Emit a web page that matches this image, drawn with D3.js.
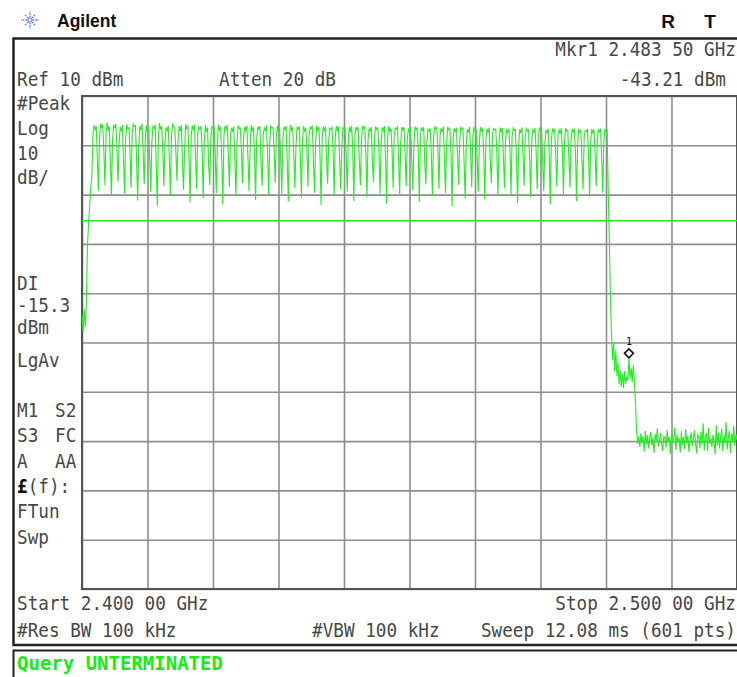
<!DOCTYPE html>
<html><head><meta charset="utf-8">
<script src="https://cdn.jsdelivr.net/npm/d3@7"></script>
<style>html,body{margin:0;padding:0;background:#fff}svg{display:block}</style>
</head><body>
<svg id="c" width="737" height="677"></svg>
<script>
// ---------------- data ----------------
const startGHz = 2.400, stopGHz = 2.500, sweepPoints = 601;
const refDbm = 10, bottomDbm = -90;
const xDivs = [2.40, 2.41, 2.42, 2.43, 2.44, 2.45, 2.46, 2.47, 2.48, 2.49, 2.50];
const yDivs = [10, 0, -10, -20, -30, -40, -50, -60, -70, -80, -90];
const displayLineDbm = -15.3;
const markerGHz = 2.4835, markerDbm = -43.21;

const topLabels = ["Ref 10 dBm", "Atten 20 dB", "Mkr1 2.483 50 GHz", "-43.21 dBm"];
const leftCol1 = ["#Peak", "Log", "10", "dB/", "DI", "-15.3", "dBm", "LgAv", "M1", "S3", "A", "", "FTun", "Swp"];
const leftCol2 = ["S2", "FC", "AA"];
const bottomLabels = ["Start 2.400 00 GHz", "Stop 2.500 00 GHz", "#Res BW 100 kHz", "#VBW 100 kHz", "Sweep 12.08 ms (601 pts)"];
const statusText = "Query UNTERMINATED";

// peak-hold trace, 601 sweep points (dBm)
const traceStart = [-34.5, -37.8, -33.2, -36.9, -32.0, -20.3, -16.1, -12.4, -8.6];
const traceComb = [
  -6.5, 1.8, 4.1, 3.2, 3.9, -2.0,
  -9.2, 0.9, 4.4, 3.5, 4.2, -1.1,
  -8.1, 2.2, 4.6, 3.0, 3.8, -3.4,
  -10.3, 1.1, 4.0, 3.6, 4.3, -0.6,
  -7.4, 0.3, 3.7, 2.9, 4.1, -2.8,
  -9.8, 1.6, 4.2, 3.3, 3.6, -1.7,
  -8.6, 2.4, 4.3, 3.8, 4.0, -3.1,
  -11.2, -0.4, 3.9, 3.1, 4.4, -1.3,
  -7.9, 1.4, 4.1, 2.6, 3.7, -2.2,
  -9.5, 0.7, 3.8, 3.4, 4.2, -4.0,
  -12.3, 1.9, 4.5, 3.2, 3.9, -0.9,
  -8.3, 0.2, 3.6, 3.0, 4.0, -2.6,
  -10.1, 2.1, 4.2, 3.7, 3.5, -1.5,
  -7.2, 1.0, 3.9, 2.8, 4.1, -3.3,
  -9.0, -0.8, 4.3, 3.4, 3.8, -1.9,
  -11.6, 1.7, 4.0, 3.1, 4.2, -2.4,
  -8.8, 2.3, 3.7, 3.3, 3.9, -0.7,
  -10.7, 0.5, 4.1, 2.7, 3.6, -3.8,
  -8.0, 1.3, 3.8, 3.5, 4.0, -1.2,
  -9.7, 0.0, 4.2, 3.0, 3.7, -2.9,
  -12.0, 1.8, 3.9, 3.2, 4.1, -1.6,
  -8.5, 2.0, 3.6, 2.9, 3.8, -3.0,
  -10.4, 0.6, 4.0, 3.4, 3.5, -0.8,
  -7.7, 1.5, 3.7, 3.1, 4.0, -2.5,
  -9.3, -0.5, 4.1, 2.8, 3.7, -1.4,
  -11.1, 1.2, 3.8, 3.3, 3.9, -3.6,
  -8.2, 2.2, 3.5, 3.0, 4.0, -2.0,
  -10.0, 0.4, 3.9, 3.5, 3.6, -1.0,
  -7.6, 1.6, 4.0, 2.7, 3.8, -2.7,
  -9.9, 0.8, 3.7, 3.2, 3.9, -3.2,
  -11.4, 1.9, 4.1, 3.0, 3.6, -1.8,
  -8.7, -0.2, 3.6, 3.3, 3.8, -2.3,
  -10.6, 1.1, 3.9, 2.9, 3.5, -0.5,
  -8.4, 2.0, 3.7, 3.4, 4.0, -3.5,
  -9.6, 0.3, 4.0, 3.1, 3.7, -1.9,
  -12.1, 1.4, 3.8, 2.8, 3.9, -2.6,
  -7.8, 0.9, 3.5, 3.2, 3.6, -1.1,
  -10.2, 1.7, 3.9, 3.0, 3.8, -3.1,
  -8.9, -0.6, 3.6, 3.3, 3.5, -2.1,
  -9.4, 1.3, 3.8, 2.6, 3.9, -0.9,
  -11.3, 2.1, 3.7, 3.1, 3.6, -2.8,
  -8.1, 0.6, 3.9, 3.4, 3.8, -1.6,
  -10.5, 1.0, 3.4, 2.9, 3.7, -3.4,
  -7.5, 1.8, 3.8, 3.2, 3.5, -1.3,
  -9.8, 0.1, 3.6, 3.0, 3.9, -2.4,
  -11.8, 1.5, 3.9, 2.7, 3.4, -0.7,
  -8.6, 2.3, 3.5, 3.3, 3.7, -3.0,
  -10.0, 0.7, 3.7, 3.1, 3.6, -1.8,
  -8.3, 1.2, 3.4, 2.8, 3.8, -2.5,
  -9.1, -0.3, 3.8, 3.2, 3.5, -1.2,
  -11.5, 1.9, 3.6, 3.0, 3.7, -3.7,
  -7.9, 0.8, 3.3, 2.9, 3.4, -2.0,
  -10.3, 1.4, 3.7, 3.3, 3.6, -0.9,
  -8.8, 2.0, 3.5, 2.7, 3.8, -2.9,
  -9.7, 0.2, 3.8, 3.1, 3.3, -1.5,
  -12.4, 1.6, 3.4, 2.8, 3.6, -2.2,
  -8.0, 1.0, 3.6, 3.2, 3.5, -3.3,
  -10.8, -0.1, 3.3, 2.6, 3.7, -1.0,
  -8.5, 1.7, 3.5, 3.0, 3.2, -2.7,
  -9.4, 0.5, 3.7, 2.9, 3.4, -1.7,
  -11.0, 1.3, 3.2, 2.7, 3.6, -3.1,
  -7.7, 2.1, 3.4, 3.1, 3.3, -1.4,
  -10.2, 0.4, 3.6, 2.8, 3.5, -2.3,
  -8.7, 1.1, 3.1, 2.6, 3.4, -0.8,
  -9.9, 1.8, 3.5, 3.0, 3.2, -3.0,
  -11.7, -0.2, 3.3, 2.5, 3.6, -1.9,
  -8.2, 1.5, 3.4, 2.9, 3.1, -2.6,
  -10.5, 0.9, 3.2, 2.7, 3.5, -1.1,
  -8.9, 1.6, 3.6, 3.0, 3.3, -3.5,
  -9.3, 0.3, 3.0, 2.6, 3.4, -1.6,
  -12.0, 1.2, 3.4, 2.8, 3.2, -2.4,
  -8.4, 2.0, 3.1, 2.5, 3.5, -0.9,
  -10.1, 0.6, 3.5, 2.9, 3.0, -2.8,
  -8.6, 1.4, 3.2, 2.7, 3.4, -1.3,
  -11.3, 0.0, 3.4, 2.6, 3.1, -3.2,
  -9.0, 1.7, 3.0, 2.8, 3.3, -2.0,
  -10.4, 0.8, 3.3, 2.5, 3.2, -1.4,
  -8.3, 1.1, 3.1, 2.7, 3.4, -2.5,
  -9.6, 0.5, 3.2, 2.8, 3.0, -8.5
];
const traceEdge = [
  -19.0, -30.5, -38.2, -43.6, -40.1, -45.9, -41.7, -46.8, -44.2, -48.5,
  -45.6, -48.9, -46.3, -49.2, -45.8, -48.4, -46.9, -47.7, -43.2, -47.4,
  -45.1, -48.0, -44.6, -47.9, -52.3, -57.8, -60.6, -59.1
];
const traceFloor = [
  -61.2, -58.4, -60.3, -59.0, -62.1, -57.9, -60.7, -58.8, -61.5, -59.6,
  -58.1, -60.9, -59.3, -62.4, -58.6, -60.0, -57.4, -61.1, -59.8, -58.3,
  -60.6, -62.0, -58.9, -59.5, -61.3, -57.7, -60.2, -59.1, -62.6, -58.5,
  -60.4, -59.7, -57.2, -61.8, -58.7, -60.1, -59.4, -62.3, -58.0, -60.8,
  -59.2, -61.6, -57.6, -60.5, -58.9, -62.2, -59.9, -58.2, -61.0, -59.6,
  -57.8, -60.3, -62.5, -58.6, -59.3, -61.4, -58.1, -60.7, -56.4, -61.9,
  -59.0, -58.4, -62.0, -57.3, -60.6, -59.5, -61.2, -58.7, -60.0, -62.7,
  -56.8, -60.9, -58.3, -61.5, -59.1, -57.5, -62.1, -58.8, -60.4, -56.2,
  -61.7, -59.4, -57.9, -62.4, -58.5, -60.2, -56.9, -61.0, -58.6, -59.8
];
const traceDbm = [].concat(traceStart, traceComb, traceEdge, traceFloor);

// ---------------- drawing ----------------
const svg = d3.select("#c");
svg.append("rect").attr("width", 737).attr("height", 677).attr("fill", "#fff");

const gL = 82, gR = 737, gT = 96, gB = 589;
const x = d3.scaleLinear().domain([startGHz, stopGHz]).range([gL, gR]);
const y = d3.scaleLinear().domain([bottomDbm, refDbm]).range([gB, gT]);
const idx = d3.scaleLinear().domain([0, sweepPoints - 1]).range([startGHz, stopGHz]);

const MONO = "'DejaVu Sans Mono', 'Liberation Mono', monospace";
function txt(px, py, s, anchor, opt) {
  opt = opt || {};
  return svg.append("text")
    .attr("transform", `translate(${px},${py}) scale(${opt.sx || 0.93},1)`)
    .attr("text-anchor", anchor || "start")
    .attr("font-family", opt.family || MONO)
    .attr("font-size", opt.size || 19)
    .attr("font-weight", opt.weight || "normal")
    .attr("fill", opt.fill || "#474747")
    .text(s);
}

// header
const star = svg.append("g").attr("transform", "translate(30,20)");
[0, 45, 90, 135, 180, 225, 270, 315].forEach(a => {
  const r = a % 90 === 0 ? 9 : 7.5;
  star.append("line").attr("x1", 0).attr("y1", 0)
    .attr("x2", r * Math.cos(a * Math.PI / 180)).attr("y2", r * Math.sin(a * Math.PI / 180))
    .attr("stroke", "#5567ff").attr("stroke-width", 1.3).attr("stroke-dasharray", "1.6 1.2");
});
star.append("circle").attr("r", 2).attr("fill", "#fff").attr("stroke", "#5567ff").attr("stroke-width", 1);
svg.append("text").attr("x", 57).attr("y", 27).attr("font-family", "'Liberation Sans', Arial, sans-serif")
  .attr("font-weight", "bold").attr("font-size", 17.5).attr("fill", "#111").text("Agilent");
svg.append("text").attr("x", 668).attr("y", 28).attr("text-anchor", "middle").attr("font-family", "'Liberation Sans', Arial, sans-serif")
  .attr("font-weight", "bold").attr("font-size", 19).attr("fill", "#111").text("R");
svg.append("text").attr("x", 710).attr("y", 28).attr("text-anchor", "middle").attr("font-family", "'Liberation Sans', Arial, sans-serif")
  .attr("font-weight", "bold").attr("font-size", 19).attr("fill", "#111").text("T");

// frame
svg.append("path").attr("d", "M740,38.5 H13.5 V645 H740").attr("fill", "none").attr("stroke", "#222").attr("stroke-width", 2.5);
svg.append("path").attr("d", "M740,650.5 H13.5 V680").attr("fill", "none").attr("stroke", "#222").attr("stroke-width", 2);

// graticule
const gx = svg.append("g").attr("transform", `translate(0,${gB})`)
  .call(d3.axisBottom(x).tickValues(xDivs).tickSize(-(gB - gT)).tickFormat(""));
gx.select(".domain").remove();
gx.selectAll("line").attr("stroke", "#8e8e8e").attr("stroke-width", 1.6);
const gy = svg.append("g").attr("transform", `translate(${gL},0)`)
  .call(d3.axisLeft(y).tickValues(yDivs).tickSize(-(gR - gL)).tickFormat(""));
gy.select(".domain").remove();
gy.selectAll("line").attr("stroke", "#8e8e8e").attr("stroke-width", 1.6);
svg.append("rect").attr("x", gL).attr("y", gT).attr("width", gR - gL).attr("height", gB - gT)
  .attr("fill", "none").attr("stroke", "#555").attr("stroke-width", 2);

// display line
svg.append("line").attr("x1", gL).attr("x2", gR).attr("y1", y(displayLineDbm)).attr("y2", y(displayLineDbm))
  .attr("stroke", "#2de82d").attr("stroke-width", 1.3);

// trace
const line = d3.line().x((d, i) => x(idx(i))).y(d => y(d));
svg.append("path").datum(traceDbm).attr("d", line).attr("fill", "none")
  .attr("stroke", "#22ee22").attr("stroke-width", 1.1).attr("stroke-linejoin", "miter");

// marker
const mx = x(markerGHz), my = y(markerDbm) - 5;
svg.append("path").attr("d", `M${mx},${my - 4.5} L${mx + 4.5},${my} L${mx},${my + 4.5} L${mx - 4.5},${my} Z`)
  .attr("fill", "none").attr("stroke", "#111").attr("stroke-width", 1.6);
svg.append("text").attr("x", mx).attr("y", my - 8).attr("text-anchor", "middle").attr("font-family", MONO)
  .attr("font-size", 10).attr("fill", "#111").text("1");

// top annotation
txt(17, 86, topLabels[0]);
txt(219, 86, topLabels[1]);
txt(736, 56, topLabels[2], "end");
txt(726, 86, topLabels[3], "end");

// left column
const col1Y = [110, 135, 160, 184, 290, 312, 334, 367, 417, 442, 468, 493, 518, 544];
leftCol1.forEach((s, i) => { if (s) txt(17, col1Y[i], s); });
const col2Y = [417, 442, 468];
leftCol2.forEach((s, i) => txt(55, col2Y[i], s));
const lf = txt(17, 493, "", "start");
lf.append("tspan").attr("font-weight", "bold").attr("fill", "#111").text("£");
lf.append("tspan").text("(f):");

// bottom annotation
txt(17, 610, bottomLabels[0]);
txt(736, 610, bottomLabels[1], "end");
txt(17, 637, bottomLabels[2]);
txt(312, 637, bottomLabels[3]);
txt(736, 637, bottomLabels[4], "end");

// status line
txt(17, 670, statusText, "start", {weight: "bold", fill: "#11ee11", sx: 1.0});
</script>
</body></html>
